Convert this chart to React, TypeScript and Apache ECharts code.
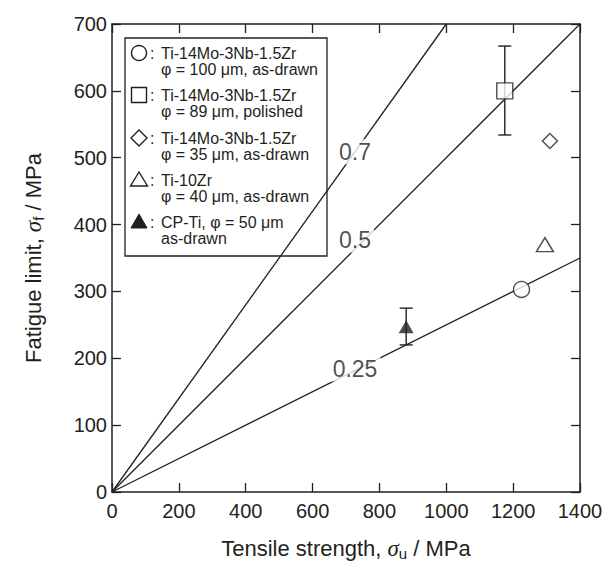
import React, { useEffect, useRef } from "react";
import * as echarts from "echarts";

// ---------- data ----------
const xTickInterval = 200;
const yTickInterval = 100;
const ratioLine07 = [[0, 0], [1000, 700]];
const ratioLine05 = [[0, 0], [1400, 700]];
const ratioLine025 = [[0, 0], [1400, 350]];
const ratioLabels = [
  [727, 509, "0.7"],
  [727, 377, "0.5"],
  [727, 184, "0.25"],
];
const circlePts = [[1225, 303]]; // Ti-14Mo-3Nb-1.5Zr, 100 um, as-drawn
const squarePts = [[1175, 600]]; // Ti-14Mo-3Nb-1.5Zr, 89 um, polished
const diamondPts = [[1310, 525]]; // Ti-14Mo-3Nb-1.5Zr, 35 um, as-drawn
const openTrianglePts = [[1295, 370]]; // Ti-10Zr
const cpTiPts = [[880, 247]]; // CP-Ti
const errorBars = [
  [1175, 534, 667],
  [880, 220, 275],
];
const legendLines = [
  ["Ti-14Mo-3Nb-1.5Zr", "φ = 100 μm, as-drawn"],
  ["Ti-14Mo-3Nb-1.5Zr", "φ = 89 μm, polished"],
  ["Ti-14Mo-3Nb-1.5Zr", "φ = 35 μm, as-drawn"],
  ["Ti-10Zr", "φ = 40 μm, as-drawn"],
  ["CP-Ti, φ = 50 μm", "as-drawn"],
];

const INK = "#231f20";
const FONT = "'Liberation Sans', Arial, Helvetica, sans-serif";

export default function App() {
  const ref = useRef<HTMLDivElement>(null);
  useEffect(() => {
    if (!ref.current) return;
    const chart = echarts.init(ref.current, null, { renderer: "svg" });

    const axisCommon = {
      type: "value",
      axisLine: { show: true, onZero: false, lineStyle: { color: INK, width: 1.5 } },
      axisTick: { show: true, inside: true, length: 9, lineStyle: { color: INK, width: 1.3 } },
      splitLine: { show: false },
    };

    const richTitle = {
      t: { fontSize: 22, fontFamily: FONT, color: INK },
      s: { fontSize: 23, fontFamily: "'Liberation Serif', 'DejaVu Serif', serif", fontStyle: "italic", color: INK },
      sub: { fontSize: 15, fontFamily: FONT, color: INK, padding: [10, 0, 0, 0] },
    };

    // legend graphic
    const lx = 139;
    const ys = [53, 95, 138, 180, 222];
    const legendChildren: any[] = [
      {
        type: "rect",
        shape: { x: 125, y: 38, width: 202, height: 218 },
        style: { fill: "#fff", stroke: INK, lineWidth: 1.3 },
      },
    ];
    const symStyle = { fill: "#fff", stroke: INK, lineWidth: 1.4 };
    legendChildren.push({ type: "circle", shape: { cx: lx, cy: ys[0], r: 7.5 }, style: symStyle });
    legendChildren.push({ type: "rect", shape: { x: lx - 7.5, y: ys[1] - 7.5, width: 15, height: 15 }, style: symStyle });
    legendChildren.push({
      type: "polygon",
      shape: { points: [[lx, ys[2] - 8], [lx + 8, ys[2]], [lx, ys[2] + 8], [lx - 8, ys[2]]] },
      style: symStyle,
    });
    legendChildren.push({
      type: "polygon",
      shape: { points: [[lx, ys[3] - 8], [lx + 8.5, ys[3] + 6], [lx - 8.5, ys[3] + 6]] },
      style: symStyle,
    });
    legendChildren.push({
      type: "polygon",
      shape: { points: [[lx, ys[4] - 8], [lx + 8, ys[4] + 6], [lx - 8, ys[4] + 6]] },
      style: { fill: INK, stroke: INK, lineWidth: 1 },
    });
    legendLines.forEach((ln, i) => {
      legendChildren.push({
        type: "text",
        x: 150,
        y: ys[i],
        style: { text: ":", fontSize: 16, fontFamily: FONT, fill: INK, verticalAlign: "middle" },
      });
      legendChildren.push({
        type: "text",
        x: 161,
        y: ys[i],
        style: { text: ln[0], fontSize: 16, fontFamily: FONT, fill: INK, verticalAlign: "middle" },
      });
      legendChildren.push({
        type: "text",
        x: 161,
        y: ys[i] + 16,
        style: { text: ln[1], fontSize: 16, fontFamily: FONT, fill: INK, verticalAlign: "middle" },
      });
    });

    const markerStyle = { color: "#fff", borderColor: INK, borderWidth: 1.4 };
    const plain = (v: number) => String(v);

    chart.setOption({
      animation: false,
      backgroundColor: "#fff",
      grid: { left: 112, top: 24, width: 468, height: 468, containLabel: false },
      xAxis: [
        {
          ...axisCommon,
          position: "bottom",
          min: 0,
          max: 1400,
          interval: xTickInterval,
          axisLabel: { fontSize: 20, fontFamily: FONT, color: INK, margin: 9, formatter: plain },
          name: "{t|Tensile strength, }{s|σ}{sub|u}{t| / MPa}",
          nameLocation: "middle",
          nameGap: 44,
          nameTextStyle: { rich: richTitle },
        },
        {
          ...axisCommon,
          position: "top",
          min: 0,
          max: 1400,
          interval: xTickInterval,
          axisLabel: { show: false },
        },
      ],
      yAxis: [
        {
          ...axisCommon,
          position: "left",
          min: 0,
          max: 700,
          interval: yTickInterval,
          axisLabel: { fontSize: 20, fontFamily: FONT, color: INK, margin: 5, formatter: plain },
          name: "{t|Fatigue limit, }{s|σ}{sub|f}{t| / MPa}",
          nameLocation: "middle",
          nameGap: 66,
          nameTextStyle: { rich: richTitle },
        },
        {
          ...axisCommon,
          position: "right",
          min: 0,
          max: 700,
          interval: yTickInterval,
          axisLabel: { show: false },
        },
      ],
      graphic: [{ type: "group", z: 100, children: legendChildren }],
      series: [
        ...[ratioLine07, ratioLine05, ratioLine025].map((d) => ({
          type: "line",
          data: d,
          symbol: "none",
          lineStyle: { color: INK, width: 1.3 },
          z: 2,
        })),
        {
          type: "scatter",
          data: ratioLabels,
          symbolSize: 1,
          itemStyle: { color: "rgba(0,0,0,0)" },
          label: {
            show: true,
            position: "inside",
            formatter: (p: any) => p.value[2],
            fontSize: 23,
            fontFamily: FONT,
            color: INK,
            backgroundColor: "#fff",
            padding: [1, 3],
          },
          z: 3,
        },
        {
          type: "custom",
          data: errorBars,
          encode: { x: 0, y: [1, 2] },
          z: 4,
          renderItem: (params: any, api: any) => {
            const x = api.value(0);
            const lo = api.coord([x, api.value(1)]);
            const hi = api.coord([x, api.value(2)]);
            const w = 6.5;
            const st = { stroke: INK, lineWidth: 1.4 };
            return {
              type: "group",
              children: [
                { type: "line", shape: { x1: lo[0], y1: lo[1], x2: hi[0], y2: hi[1] }, style: st },
                { type: "line", shape: { x1: lo[0] - w, y1: lo[1], x2: lo[0] + w, y2: lo[1] }, style: st },
                { type: "line", shape: { x1: hi[0] - w, y1: hi[1], x2: hi[0] + w, y2: hi[1] }, style: st },
              ],
            };
          },
        },
        { type: "scatter", data: circlePts, symbol: "circle", symbolSize: 16, itemStyle: markerStyle, z: 5 },
        { type: "scatter", data: squarePts, symbol: "rect", symbolSize: 16, itemStyle: markerStyle, z: 5 },
        { type: "scatter", data: diamondPts, symbol: "diamond", symbolSize: 15, itemStyle: markerStyle, z: 5 },
        { type: "scatter", data: openTrianglePts, symbol: "triangle", symbolSize: [17, 14], itemStyle: markerStyle, z: 5 },
        { type: "scatter", data: cpTiPts, symbol: "triangle", symbolSize: [15, 13], itemStyle: { color: INK }, z: 5 },
      ],
    });
    return () => chart.dispose();
  }, []);
  return (
    <div
      ref={ref}
      style={{ position: "fixed", left: 0, top: 0, width: 608, height: 574, background: "#fff" }}
    />
  );
}
